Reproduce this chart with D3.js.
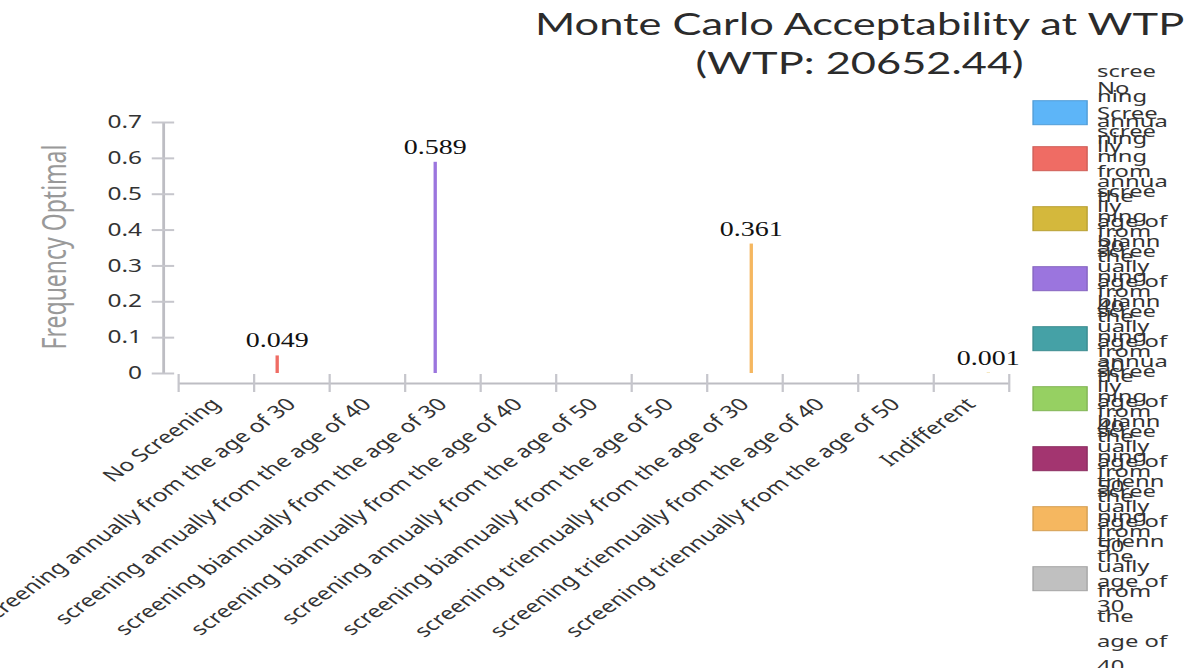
<!DOCTYPE html>
<html>
<head>
<meta charset="utf-8">
<script src="https://cdn.jsdelivr.net/npm/d3@7"></script>
<style>
    body { margin: 0; background: #fff; }
    svg { display: block; }
</style>
</head>
<body>
<div id="chart"></div>
<script>
// ----------------------------------------------
// Data
// ----------------------------------------------
var strategies = [
    "No Screening",
    "screening annually from the age of 30",
    "screening annually from the age of 40",
    "screening biannually from the age of 30",
    "screening biannually from the age of 40",
    "screening annually from the age of 50",
    "screening biannually from the age of 50",
    "screening triennually from the age of 30",
    "screening triennually from the age of 40",
    "screening triennually from the age of 50",
    "Indifferent"
];
var frequencies = [0, 0.049, 0, 0.589, 0, 0, 0, 0.361, 0, 0, 0.001];
var seriesColors = ["#5db5f8", "#ef6c64", "#d4b83c", "#9b75de", "#45a1a6", "#96d062",
    "#a33570", "#f5b760", "#c0c0c0", "#7d8fb0", "#e3bf55"];
var yTicks = [0, 0.1, 0.2, 0.3, 0.4, 0.5, 0.6, 0.7];
var titleLines = ["Monte Carlo Acceptability at WTP", "(WTP: 20652.44)"];
var yTitle = "Frequency Optimal";
var legendCount = 9;

// ----------------------------------------------
// Basic setup (the whole picture is drawn stretched sideways)
// ----------------------------------------------
var svgWidth = 1196;
var svgHeight = 668;
var stretch = 1.4;
var width = svgWidth / stretch;
var uiFont = "'Noto Sans', 'Open Sans', sans-serif";

var svg = d3.select("#chart")
    .append("svg")
    .attr("width", svgWidth)
    .attr("height", svgHeight)
    .attr("viewBox", `0 0 ${width} ${svgHeight}`)
    .attr("preserveAspectRatio", "none");

var axisX = 116.4;
var xAxisY = 383;

var x0 = d3.scaleBand()
    .domain(strategies)
    .range([127.1, 720.4]);

var x1 = d3.scaleBand()
    .domain(strategies)
    .range([0, x0.bandwidth()])
    .paddingInner(0.05)
    .paddingOuter(5.3);

var y = d3.scaleLinear()
    .domain([0, 0.7])
    .range([373, 122]);

// title
svg.append("g").selectAll("text")
    .data(titleLines)
    .enter()
    .append("text")
    .attr("x", 614)
    .attr("y", (d, i) => 35 + i * 39)
    .attr("text-anchor", "middle")
    .style("font-family", "Lato, 'Open Sans', sans-serif")
    .style("font-size", "31px")
    .style("fill", "#2b2b2b")
    .text(d => d);

// y axis
var yAxis = svg.append("g")
    .attr("transform", `translate(${axisX},0)`)
    .call(d3.axisLeft(y)
        .tickValues(yTicks)
        .tickSizeInner(8)
        .tickSizeOuter(0)
        .tickPadding(7)
        .tickFormat(d => d === 0 ? "0" : d3.format(".1f")(d)));
yAxis.select(".domain").attr("stroke", "#bdbdc3").attr("stroke-width", 2);
yAxis.selectAll(".tick line").attr("x1", 8).attr("stroke", "#c6c6cc").attr("stroke-width", 2);
yAxis.selectAll(".tick text")
    .style("font-family", uiFont)
    .style("font-size", "17.5px")
    .style("fill", "#333");

svg.append("text")
    .attr("transform", `translate(39,247)rotate(-90)`)
    .attr("text-anchor", "middle")
    .attr("dy", "0.35em")
    .style("font-family", uiFont)
    .style("font-size", "23px")
    .style("fill", "#999")
    .text(yTitle);

// x axis: ticks on band edges
var xEdges = d3.scaleLinear()
    .domain([0, strategies.length])
    .range(x0.range());
var xAxis = svg.append("g")
    .attr("transform", `translate(0,${xAxisY})`)
    .call(d3.axisBottom(xEdges)
        .tickValues(d3.range(strategies.length + 1))
        .tickSizeInner(9)
        .tickSizeOuter(0)
        .tickFormat(""));
xAxis.select(".domain").attr("stroke", "#bdbdc3").attr("stroke-width", 2);
xAxis.selectAll(".tick line").attr("y1", -9).attr("stroke", "#c6c6cc").attr("stroke-width", 1.6);

svg.append("g").selectAll("text")
    .data(strategies)
    .enter()
    .append("text")
    .attr("transform", d => `translate(${x0(d) + x0.bandwidth() / 2},401)rotate(-45)`)
    .attr("text-anchor", "end")
    .attr("dy", "0.35em")
    .style("font-family", uiFont)
    .style("font-size", "17.5px")
    .style("fill", "#333")
    .text(d => d);

// bars, one series per strategy
var bars = strategies.map((s, i) => ({ name: s, value: frequencies[i], color: seriesColors[i] }));

svg.append("g").selectAll("rect")
    .data(bars.filter(d => d.value > 0))
    .enter()
    .append("rect")
    .attr("x", d => x0(d.name) + x1(d.name))
    .attr("y", d => y(d.value))
    .attr("width", x1.bandwidth())
    .attr("height", d => y(0) - y(d.value))
    .attr("fill", d => d.color);

svg.append("g").selectAll("text")
    .data(bars.filter(d => d.value > 0))
    .enter()
    .append("text")
    .attr("x", d => x0(d.name) + x1(d.name) + x1.bandwidth() / 2)
    .attr("y", d => y(d.value) - 8)
    .attr("text-anchor", "middle")
    .style("font-family", "'Liberation Serif', serif")
    .style("font-size", "20px")
    .style("fill", "#111")
    .text(d => d3.format(".3f")(d.value));

// legend (labels wrap into a very narrow column and overlap)
var legendX = 737.9;
var legendTop = d => d === 0 ? 100.7 : 146.7 + (d - 1) * 60;
var lineHeight = 25;
var wrapWidth = 51.5;

var legend = svg.append("g");
var probe = legend.append("text")
    .style("font-family", uiFont)
    .style("font-size", "17px");

function textWidth(str) {
    probe.text(str);
    return probe.node().getComputedTextLength();
}

function wrapLabel(label) {
    var lines = [];
    var current = "";
    label.split(" ").forEach(word => {
        var trial = current ? current + " " + word : word;
        if (textWidth(trial) <= wrapWidth) {
            current = trial;
            return;
        }
        if (current) lines.push(current);
        current = "";
        var piece = "";
        word.split("").forEach(ch => {
            if (textWidth(piece + ch) > wrapWidth && piece) {
                lines.push(piece);
                piece = ch;
            } else {
                piece += ch;
            }
        });
        current = piece;
    });
    if (current) lines.push(current);
    return lines;
}

bars.slice(0, legendCount).forEach((d, i) => {
    var top = legendTop(i);
    legend.append("rect")
        .attr("x", legendX)
        .attr("y", top)
        .attr("width", 38.6)
        .attr("height", 24)
        .attr("fill", d.color)
        .attr("stroke", d3.color(d.color).darker(0.4))
        .attr("stroke-width", 1);

    var lines = wrapLabel(d.name);
    var mid = top + 12;
    legend.append("g").selectAll("text")
        .data(lines)
        .enter()
        .append("text")
        .attr("x", 783.6)
        .attr("y", (t, k) => mid + (k - (lines.length - 1) / 2) * lineHeight)
        .attr("dy", "0.35em")
        .style("font-family", uiFont)
        .style("font-size", "17px")
        .style("fill", "#333")
        .text(t => t);
});
probe.remove();
</script>
</body>
</html>
